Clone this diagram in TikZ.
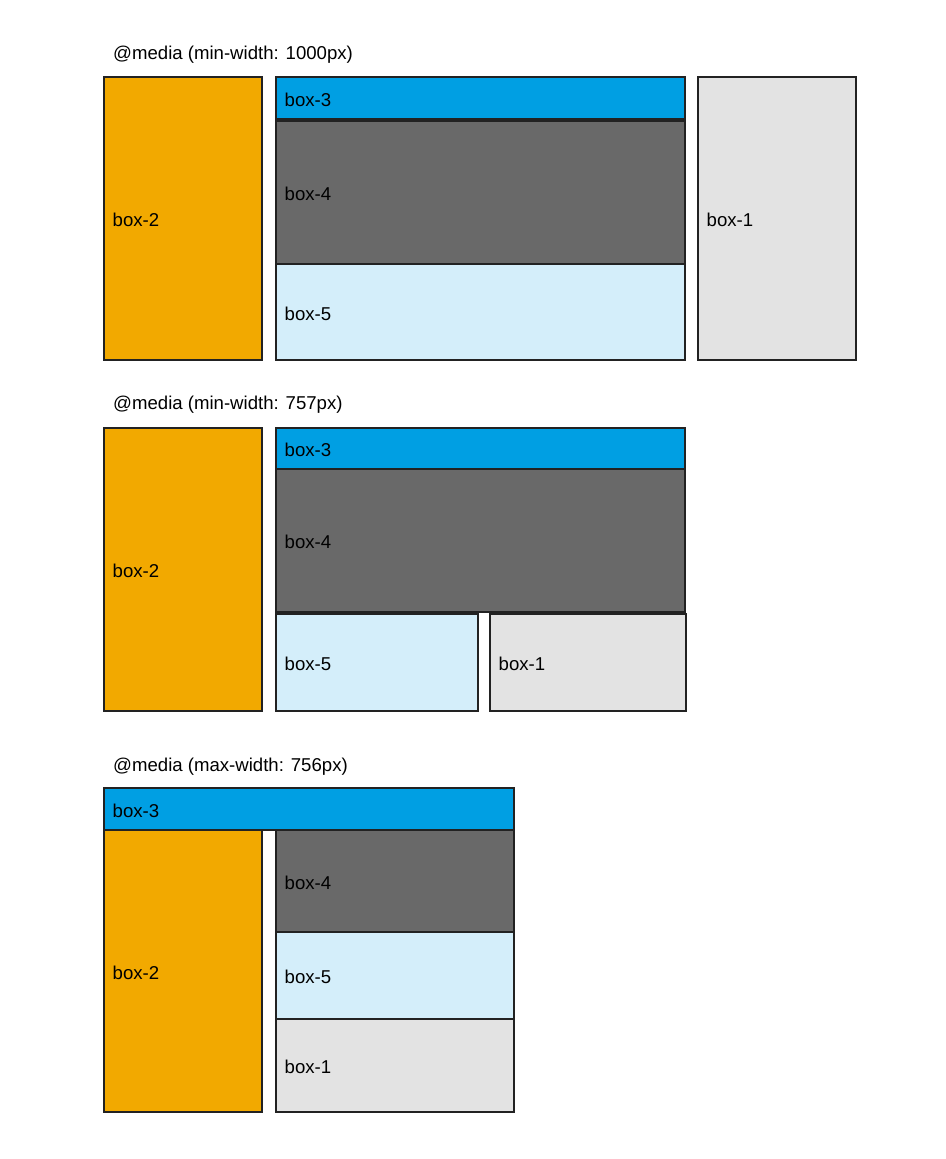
\documentclass[tikz,border=0pt]{standalone}
\usepackage{fontspec}
\setmainfont{Liberation Sans}
\definecolor{corange}{RGB}{242,169,0}
\definecolor{cblue}{RGB}{0,159,227}
\definecolor{cdark}{RGB}{105,105,105}
\definecolor{clblue}{RGB}{212,238,250}
\definecolor{clgray}{RGB}{227,227,227}
\definecolor{cline}{RGB}{34,34,34}
\begin{document}
\begin{tikzpicture}[x=1pt,y=-1pt,
  every node/.style={font=\fontsize{18.6}{22}\selectfont},
  box/.style={draw=cline, line width=1.8pt, anchor=north west, inner sep=0pt},
  lbl/.style={anchor=west, xshift=9.5pt, yshift=-1.5pt, inner sep=0pt},
  ttl/.style={anchor=west, inner sep=0pt}]
\useasboundingbox (0,0) rectangle (945,1159);
% section 1
\node[ttl] (t1) at (113,55) {@media (min-width: 1000px)};
\node[box, fill=corange, minimum width=158pt, minimum height=283pt, label={[lbl]west:box-2}] (a2) at (103,76) {};
\node[box, fill=cblue, minimum width=409pt, minimum height=42pt, label={[lbl]west:box-3}] (a3) at (275,76) {};
\node[box, fill=cdark, minimum width=409pt, minimum height=143pt, label={[lbl]west:box-4}] (a4) at (275,120) {};
\node[box, fill=clblue, minimum width=409pt, minimum height=96pt, label={[lbl]west:box-5}] (a5) at (275,263) {};
\node[box, fill=clgray, minimum width=158pt, minimum height=283pt, label={[lbl]west:box-1}] (a1) at (697,76) {};
% section 2
\node[ttl] (t2) at (113,405) {@media (min-width: 757px)};
\node[box, fill=corange, minimum width=158pt, minimum height=283pt, label={[lbl]west:box-2}] (b2) at (103,427) {};
\node[box, fill=cblue, minimum width=409pt, minimum height=41pt, label={[lbl]west:box-3}] (b3) at (275,427) {};
\node[box, fill=cdark, minimum width=409pt, minimum height=143pt, label={[lbl]west:box-4}] (b4) at (275,468) {};
\node[box, fill=clblue, minimum width=202pt, minimum height=97pt, label={[lbl]west:box-5}] (b5) at (275,613) {};
\node[box, fill=clgray, minimum width=196pt, minimum height=97pt, label={[lbl]west:box-1}] (b1) at (489,613) {};
% section 3
\node[ttl] (t3) at (113,767) {@media (max-width: 756px)};
\node[box, fill=corange, minimum width=158pt, minimum height=282pt, label={[lbl]west:box-2}] (c2) at (103,829) {};
\node[box, fill=cblue, minimum width=410pt, minimum height=42pt, label={[lbl]west:box-3}] (c3) at (103,787) {};
\node[box, fill=cdark, minimum width=238pt, minimum height=102pt, label={[lbl]west:box-4}] (c4) at (275,829) {};
\node[box, fill=clblue, minimum width=238pt, minimum height=87pt, label={[lbl]west:box-5}] (c5) at (275,931) {};
\node[box, fill=clgray, minimum width=238pt, minimum height=93pt, label={[lbl]west:box-1}] (c1) at (275,1018) {};
\end{tikzpicture}
\end{document}
